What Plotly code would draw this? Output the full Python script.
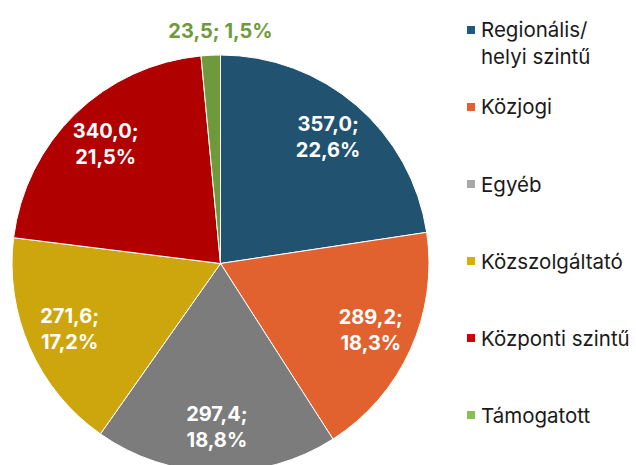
import plotly.graph_objects as go

categories = ["Regionális/<br>helyi szintű", "Közjogi", "Egyéb", "Közszolgáltató", "Központi szintű", "Támogatott"]
values = [357.0, 289.2, 297.4, 271.6, 340.0, 23.5]
slice_colors = ["#215371", "#E1622E", "#7C7C7C", "#CDA60E", "#B10000", "#6F9A3C"]
legend_colors = ["#1F5A7E", "#E5602C", "#A8A8A8", "#D6B000", "#D20000", "#8CBF52"]
text_positions = ["inside", "inside", "inside", "inside", "inside", "none"]

W, H = 636, 490
FONT = "Inter"

def px_domain(x0, x1, top, bottom):
    return dict(x=[x0 / W, x1 / W], y=[1 - bottom / H, 1 - top / H])

total = sum(values)
small_label = f"{values[-1]:.1f}; {values[-1] / total * 100:.1f}%".replace(".", ",")

fig = go.Figure()
# base pie: the coloured slices
fig.add_trace(go.Pie(
    labels=categories, values=values, sort=False, direction="clockwise", rotation=0,
    marker=dict(colors=slice_colors, line=dict(color="white", width=1)),
    textinfo="none", showlegend=False,
    domain=px_domain(12, 429, 55, 472),
    hoverinfo="label+value+percent",
))
# text carrier pie (transparent); the hole pushes the labels outward
fig.add_trace(go.Pie(
    labels=categories, values=values, sort=False, direction="clockwise", rotation=0,
    hole=0.5,
    marker=dict(colors=["rgba(0,0,0,0)"] * len(values), line=dict(width=0)),
    texttemplate="%{value:.1f};<br>%{percent:.1%}",
    textposition=text_positions,
    insidetextorientation="horizontal",
    insidetextfont=dict(family=FONT, size=20, color="white", weight="bold"),
    title=dict(text=small_label, position="top center",
               font=dict(family=FONT, size=20, color="#6F9A3C", weight="bold")),
    showlegend=False, hoverinfo="skip",
    domain=px_domain(0.5, 440.5, 16.5, 483.5),
))

# legend drawn with shapes + annotations for exact spacing
legend_centers = [43, 107, 184, 261, 338, 415]
marker_centers = [30, 107, 184, 261, 338, 415]
for cat, col, yc, ym in zip(categories, legend_colors, legend_centers, marker_centers):
    fig.add_shape(type="rect", xref="paper", yref="paper",
                  x0=467 / W, x1=475 / W, y0=1 - (ym + 4) / H, y1=1 - (ym - 4) / H,
                  fillcolor=col, line=dict(width=0))
    fig.add_annotation(x=479 / W, y=1 - yc / H, xref="paper", yref="paper",
                       xanchor="left", yanchor="middle", align="left", showarrow=False,
                       text=cat, font=dict(family=FONT, size=20.5, color="#1a1a1a"))

fig.update_layout(
    width=W, height=H,
    margin=dict(l=0, r=0, t=0, b=0),
    paper_bgcolor="white",
    plot_bgcolor="white",
    separators=", ",
)

fig.write_html("out.html", config={"displayModeBar": False}, post_script=(
    "document.documentElement.style.overflow='hidden';"
    "document.body.style.overflow='hidden';document.body.style.margin='0';"))
